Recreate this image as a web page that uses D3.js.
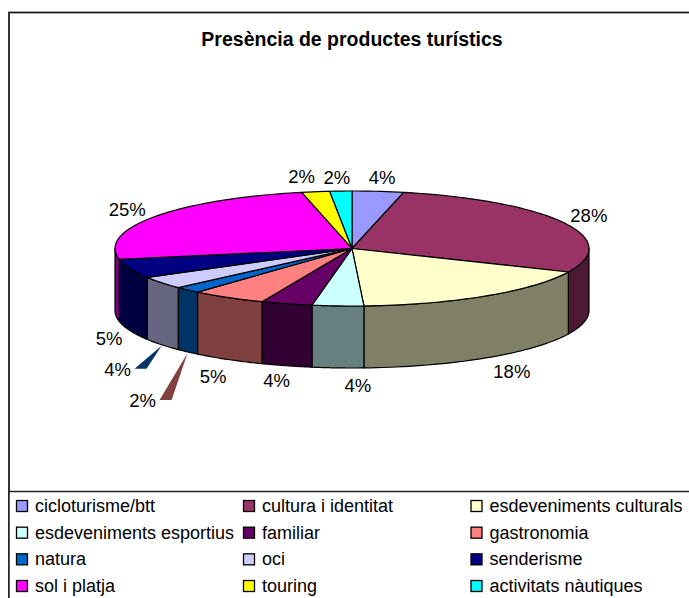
<!DOCTYPE html>
<html><head><meta charset="utf-8">
<script src="https://cdn.jsdelivr.net/npm/d3@7/dist/d3.min.js"></script>
<style>html,body{margin:0;padding:0;background:#fff}svg{display:block}text{font-family:"Liberation Sans",Arial,sans-serif;fill:#000}</style>
</head><body><svg id="c" width="689" height="598"></svg>
<script>
const categories=["cicloturisme/btt","cultura i identitat","esdeveniments culturals","esdeveniments esportius","familiar","gastronomia","natura","oci","senderisme","sol i platja","touring","activitats nàutiques"];
const values=[3.5,28.2,17.5,3.5,3.5,5.1,1.8,3.5,5.4,24.6,1.9,1.5];
const colors=["#9999ff","#993366","#ffffcc","#ccffff","#660066","#ff8080","#0066cc","#ccccff","#000080","#ff00ff","#ffff00","#00ffff"];
const wallColors=["#4d4d80","#4d1a33","#808066","#668080","#330033","#804040","#003366","#666680","#000040","#800080","#808000","#008080"];
const title="Presència de productes turístics";

const W=689,H=598,cx=352,cy=248.5,rx=237,ry=57.5,depth=62;
const labelOffsets=[[4,-14],[25,-7],[26,14],[20,18],[-10,15],[-15,17],[-45,49],[-44,25],[-21,8],[-27,-7],[-14,-15],[-4,-14]];
const svg=d3.select("#c");

svg.append("rect").attr("x",9).attr("y",12.5).attr("width",W).attr("height",H).attr("fill","#fff").attr("stroke","#111").attr("stroke-width",1.7);

svg.append("text").attr("x",352).attr("y",46).attr("text-anchor","middle").attr("font-weight","bold").attr("font-size",19.5).text(title);

const arcs=d3.pie().value(d=>d).sort(null)(values);
const px=a=>cx+rx*Math.sin(a), py=a=>cy-ry*Math.cos(a);
const line=d3.line();
const g=svg.append("g").attr("stroke","#000").attr("stroke-width",1.2).attr("stroke-linejoin","round");

// side walls of the visible front half
const lo=Math.PI/2, hi=3*Math.PI/2;
const walls=arcs.map((a,i)=>({a0:Math.max(a.startAngle,lo),a1:Math.min(a.endAngle,hi),i})).filter(d=>d.a1>d.a0);
g.selectAll("path.wall").data(walls).join("path").attr("class","wall")
 .attr("fill",d=>wallColors[d.i])
 .attr("d",d=>{
   const s=d3.range(0,41).map(k=>d.a0+(d.a1-d.a0)*k/40);
   const top=s.map(a=>[px(a),py(a)]);
   const bot=s.slice().reverse().map(a=>[px(a),py(a)+depth]);
   return line(top.concat(bot))+"Z";
 });

// top face
g.selectAll("path.top").data(arcs).join("path").attr("class","top")
 .attr("fill",(d,i)=>colors[i])
 .attr("d",d=>{
   const n=Math.max(4,Math.ceil((d.endAngle-d.startAngle)*40));
   const pts=d3.range(0,n+1).map(k=>{const a=d.startAngle+(d.endAngle-d.startAngle)*k/n;return [px(a),py(a)];});
   return line([[cx,cy]].concat(pts))+"Z";
 });

const mid=d=>(d.startAngle+d.endAngle)/2;
const anchor=d=>{const a=mid(d);return [px(a),py(a)+(Math.cos(a)<0?depth:0)];};

// leader wedges of the two thin slices: each takes the wall colour of the slice before it
const leaderIdx=[6,7];
svg.selectAll("path.leader").data(leaderIdx).join("path").attr("class","leader")
 .attr("fill",i=>wallColors[i-1]).attr("stroke","none")
 .attr("d",i=>{
   const [ax,ay]=anchor(arcs[i]),[ox,oy]=labelOffsets[i];
   const ly=ay+oy-1;
   return line([[ax,ay+1],[ax+ox+17,ly],[ax+ox+29,ly]])+"Z";
 });

svg.selectAll("text.pct").data(arcs).join("text").attr("class","pct")
 .attr("text-anchor","middle").attr("dominant-baseline","central").attr("font-size",18.5)
 .attr("x",(d,i)=>anchor(d)[0]+labelOffsets[i][0])
 .attr("y",(d,i)=>anchor(d)[1]+labelOffsets[i][1])
 .text(d=>Math.round(d.value)+"%");

// legend
svg.append("rect").attr("x",9).attr("y",491.5).attr("width",W).attr("height",H).attr("fill","#fff").attr("stroke","#222").attr("stroke-width",1.5);
const colXs=[22,249,476.5];
const rowY=d3.scaleLinear().domain([0,3]).range([506,586]);
const lg=svg.selectAll("g.lg").data(categories).join("g").attr("class","lg")
 .attr("transform",(d,i)=>`translate(${colXs[i%3]},${rowY(Math.floor(i/3))})`);
lg.append("rect").attr("x",-5.5).attr("y",-5.5).attr("width",11).attr("height",11).attr("fill",(d,i)=>colors[i]).attr("stroke","#000").attr("stroke-width",1.3);
lg.append("text").attr("x",13).attr("dominant-baseline","central").attr("font-size",18).text(d=>d);
</script></body></html>
